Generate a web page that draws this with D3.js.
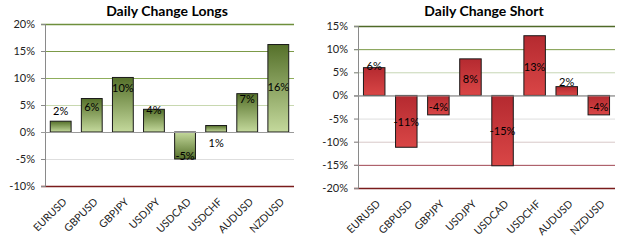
<!DOCTYPE html>
<html>
<head>
<meta charset="utf-8">
<script src="https://cdn.jsdelivr.net/npm/d3@7"></script>
<style>
  body { margin: 0; background: #fff; }
  svg { display: block; font-family: Lato, "Open Sans", sans-serif; }
  .title { font-weight: bold; font-size: 14px; fill: #000; }
  .tick text { font-size: 11px; fill: #222; }
  .xlab { font-size: 10.5px; fill: #222; }
  .vlab { font-size: 11px; fill: #000; }
</style>
</head>
<body>
<div id="chart"></div>
<script>
    // data
    const pairs = ["EURUSD", "GBPUSD", "GBPJPY", "USDJPY", "USDCAD", "USDCHF", "AUDUSD", "NZDUSD"];
    const longs = [2.0, 6.2, 10.1, 4.2, -5.0, 1.2, 7.1, 16.2];
    const shorts = [6.0, -11.2, -4.2, 7.9, -15.2, 12.9, 1.9, -4.2];
    const longTicks = [20, 15, 10, 5, 0, -5, -10];
    const shortTicks = [15, 10, 5, 0, -5, -10, -15, -20];

    // gridline colours per tick (excel style gradient green -> red)
    const longGrid = ["#6e8f3c", "#7c9a48", "#8fae5c", "#c8d8b0", "#9a9a9a", "#dedede", "#7a1c1c"];
    const shortGrid = ["#4f6a28", "#7c9a48", "#c6d6b4", "#9a9a9a", "#dedede", "#d8c8c8", "#a04652", "#7a1c1c"];

    // label nudges (px) relative to bar end
    const longLabelDy = [-10, 9, 11, 1, -3, 18, 5, 43];
    const shortLabelDy = [-2, -25, -8, 20, -35, 31, -4, -8];

    const svg = d3.select("#chart").append("svg")
        .attr("width", 625)
        .attr("height", 246);

    const defs = svg.append("defs");

    function grad(id, c1, c2) {
        const g = defs.append("linearGradient")
            .attr("id", id)
            .attr("x1", 0).attr("y1", 0).attr("x2", 0).attr("y2", 1);
        g.append("stop").attr("offset", "0%").attr("stop-color", c1);
        g.append("stop").attr("offset", "100%").attr("stop-color", c2);
    }
    grad("gUp", "#55702a", "#c4d99c");
    grad("gDown", "#c4d99c", "#55702a");
    grad("rBar", "#b52a30", "#d94646");

    function drawChart(opt) {
        const x = d3.scaleBand()
            .domain(pairs)
            .range([opt.left, opt.right])
            .paddingInner(0.33)
            .paddingOuter(0.17);

        const y = d3.scaleLinear()
            .domain(opt.domain)
            .range([opt.bottom, opt.top]);

        const g = svg.append("g");

        // gridlines
        g.selectAll(".grid")
            .data(opt.ticks)
            .join("line")
            .attr("x1", opt.left - 4)
            .attr("x2", opt.right)
            .attr("y1", d => y(d) + 0.5)
            .attr("y2", d => y(d) + 0.5)
            .attr("stroke", (d, i) => opt.grid[i])
            .attr("stroke-width", (d, i) => (i == 0 || i == opt.ticks.length - 1) ? 1.5 : 1);

        // y axis (labels only + line)
        const ax = g.append("g")
            .attr("transform", `translate(${opt.left},0)`)
            .call(d3.axisLeft(y).tickValues(opt.ticks).tickSize(4).tickPadding(6).tickFormat(d => d + "%"));
        ax.select(".domain").attr("stroke", "#8a8a8a");
        ax.selectAll(".tick line").attr("stroke", "#8a8a8a");
        ax.selectAll(".tick text").attr("font-family", "Lato, sans-serif");

        // bars
        g.selectAll(".bar")
            .data(opt.values)
            .join("rect")
            .attr("x", (d, i) => x(pairs[i]))
            .attr("width", x.bandwidth())
            .attr("y", d => y(Math.max(0, d)))
            .attr("height", d => Math.abs(y(d) - y(0)))
            .attr("fill", d => opt.fill(d))
            .attr("stroke", "#1a1a1a")
            .attr("stroke-width", 1);

        // zero line on top
        g.append("line")
            .attr("x1", opt.left - 4).attr("x2", opt.right)
            .attr("y1", y(0) + 0.5).attr("y2", y(0) + 0.5)
            .attr("stroke", "#9a9a9a");

        // value labels
        g.selectAll(".vlab")
            .data(opt.values)
            .join("text")
            .attr("class", "vlab")
            .attr("x", (d, i) => x(pairs[i]) + x.bandwidth() / 2)
            .attr("y", (d, i) => y(d) + opt.labelDy[i])
            .attr("dy", "0.35em")
            .attr("text-anchor", "middle")
            .text(d => Math.round(d) + "%");

        // rotated category labels
        g.selectAll(".xlab")
            .data(pairs)
            .join("text")
            .attr("class", "xlab")
            .attr("text-anchor", "end")
            .attr("dy", "0.35em")
            .attr("transform", d => `translate(${x(d) + x.bandwidth() / 2 + 4},${opt.bottom + 14}) rotate(-45)`)
            .text(d => d);

        // title
        g.append("text")
            .attr("class", "title")
            .attr("x", opt.titleX)
            .attr("y", 16)
            .attr("text-anchor", "middle")
            .text(opt.title);
    }

    drawChart({
        title: "Daily Change Longs",
        titleX: 167,
        left: 45, right: 294, top: 24, bottom: 186,
        domain: [-10, 20],
        ticks: longTicks,
        grid: longGrid,
        values: longs,
        labelDy: longLabelDy,
        fill: d => d >= 0 ? "url(#gUp)" : "url(#gDown)"
    });

    drawChart({
        title: "Daily Change Short",
        titleX: 484,
        left: 358, right: 615, top: 26, bottom: 188,
        domain: [-20, 15],
        ticks: shortTicks,
        grid: shortGrid,
        values: shorts,
        labelDy: shortLabelDy,
        fill: d => "url(#rBar)"
    });
</script>
</body>
</html>
